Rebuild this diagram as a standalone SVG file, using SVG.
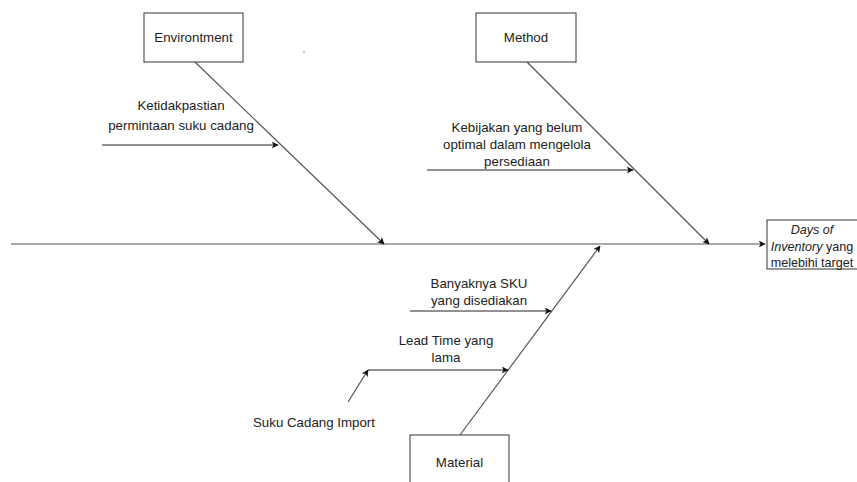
<svg xmlns="http://www.w3.org/2000/svg" width="857" height="482" viewBox="0 0 857 482">
<style>
.box{fill:#fff;stroke:#333;stroke-width:1}
.t{font-family:"Liberation Sans",Arial,sans-serif;font-size:13.3px;fill:#222;text-anchor:middle}
.tl{font-family:"Liberation Sans",Arial,sans-serif;font-size:13.3px;fill:#222}
.te{font-family:"Liberation Sans",Arial,sans-serif;font-size:12.6px;fill:#222;text-anchor:middle}
.ln{stroke:#555;stroke-width:1.2;fill:none}
.ar{stroke:#222;stroke-width:1;fill:none}
</style>
<defs>
<marker id="ah" viewBox="0 0 10 10" refX="9" refY="5" markerWidth="7" markerHeight="7" orient="auto" markerUnits="userSpaceOnUse">
<path d="M0,0 L10,5 L0,10 L2.5,5 z" fill="#111"/>
</marker>
</defs>
<rect width="857" height="482" fill="#fff"/>
<g id="connectors">
<line class="ln" x1="11" y1="244" x2="765" y2="244" marker-end="url(#ah)"/>
<line class="ln" x1="195" y1="62" x2="384" y2="244" marker-end="url(#ah)"/>
<line class="ln" x1="527" y1="62" x2="709" y2="244" marker-end="url(#ah)"/>
<line class="ln" x1="460" y1="435" x2="600" y2="246" marker-end="url(#ah)"/>
<line class="ar" x1="102" y1="145" x2="278" y2="145" marker-end="url(#ah)"/>
<line class="ar" x1="427" y1="170" x2="633" y2="170" marker-end="url(#ah)"/>
<line class="ar" x1="410" y1="311" x2="551" y2="311" marker-end="url(#ah)"/>
<line class="ar" x1="368" y1="370" x2="508" y2="370" marker-end="url(#ah)"/>
<line class="ln" x1="348" y1="402" x2="368" y2="370" marker-end="url(#ah)"/>
</g>
<g id="environment">
<rect class="box" x="144" y="13" width="99" height="49"/>
<text class="t" x="193.5" y="42">Environtment</text>
</g>
<g id="method">
<rect class="box" x="476" y="13" width="100" height="49"/>
<text class="t" x="526" y="42">Method</text>
</g>
<g id="material">
<rect class="box" x="410" y="435" width="99" height="50"/>
<text class="t" x="459.5" y="467">Material</text>
</g>
<g id="effect">
<rect class="box" x="767" y="220" width="100" height="49"/>
<text class="te" x="812" y="234" font-style="italic">Days of</text>
<text class="te" x="812" y="251"><tspan font-style="italic">Inventory</tspan> yang</text>
<text class="te" x="812" y="267">melebihi target</text>
</g>
<g id="cause-ketidakpastian">
<text class="t" x="181" y="110">Ketidakpastian</text>
<text class="t" x="181" y="130">permintaan suku cadang</text>
</g>
<g id="cause-kebijakan">
<text class="t" x="517" y="132">Kebijakan yang belum</text>
<text class="t" x="517" y="149">optimal dalam mengelola</text>
<text class="t" x="517" y="166">persediaan</text>
</g>
<g id="cause-sku">
<text class="t" x="479" y="288">Banyaknya SKU</text>
<text class="t" x="479" y="305">yang disediakan</text>
</g>
<g id="cause-leadtime">
<text class="t" x="446" y="345">Lead Time yang</text>
<text class="t" x="446" y="362">lama</text>
</g>
<g id="cause-import">
<text class="tl" x="253" y="427">Suku Cadang Import</text>
</g>
<circle cx="304" cy="52" r="0.8" fill="#888"/>
</svg>
